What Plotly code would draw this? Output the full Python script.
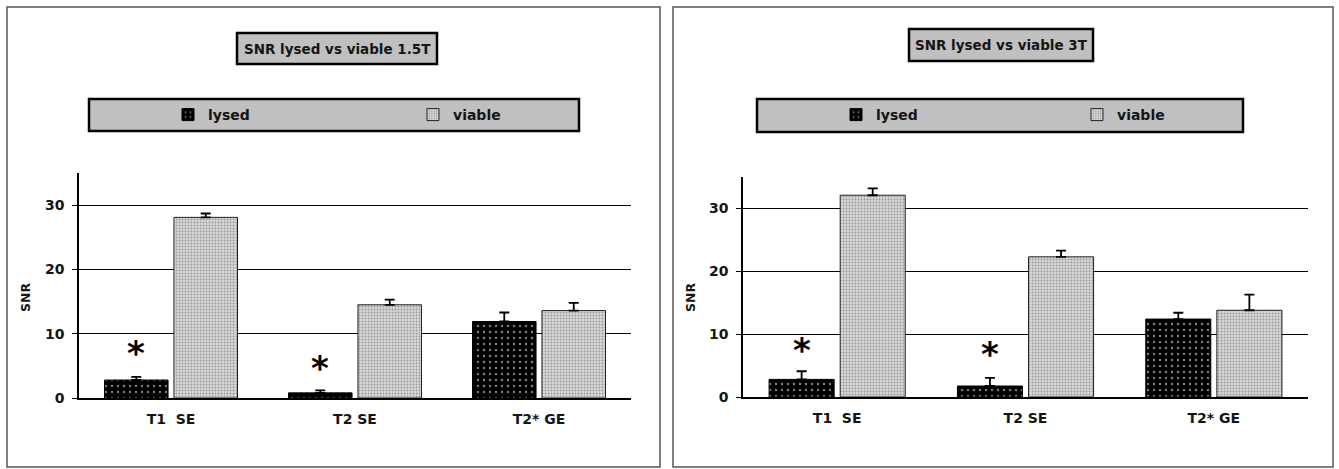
import plotly.graph_objects as go

# ---------------- data ----------------
categories = ["T1\u00a0 SE", "T2 SE", "T2* GE"]

lysed_15 = [2.8, 0.8, 11.9]
lysed_15_err = [0.5, 0.4, 1.4]
viable_15 = [28.1, 14.5, 13.6]
viable_15_err = [0.6, 0.8, 1.2]

lysed_3 = [2.8, 1.75, 12.4]
lysed_3_err = [1.3, 1.3, 1.0]
viable_3 = [32.1, 22.3, 13.8]
viable_3_err = [1.1, 1.0, 2.5]

star_cats = ["T1\u00a0 SE", "T2 SE"]
star_y_15 = [7.8, 5.5]
star_y_3 = [8.3, 7.6]

y_ticks = [0, 10, 20, 30]
titles = ["SNR lysed vs viable 1.5T", "SNR lysed vs viable 3T"]

# ---------------- geometry ----------------
W, H = 1339, 469
FONT = "DejaVu Sans"
TXT = "#151515"


def px(x):
    return x / W


def py(y):
    return 1 - y / H


lysed_style = dict(
    color="black",
    line=dict(color="black", width=1),
    pattern=dict(shape=".", bgcolor="black", fgcolor="white", size=6, solidity=0.12),
)
viable_style = dict(
    color="#bdbdbd",
    line=dict(color="#222", width=1),
    pattern=dict(shape=".", bgcolor="#d8d8d8", fgcolor="#555555", size=3, solidity=0.3),
)


def err(vals):
    return dict(type="data", array=vals, arrayminus=[0] * len(vals), symmetric=False,
                color="black", thickness=1.8, width=5)


fig = go.Figure()

fig.add_trace(go.Bar(x=categories, y=lysed_15, name="lysed", marker=lysed_style,
                     error_y=err(lysed_15_err), xaxis="x", yaxis="y", legend="legend"))
fig.add_trace(go.Bar(x=categories, y=viable_15, name="viable", marker=viable_style,
                     error_y=err(viable_15_err), xaxis="x", yaxis="y", legend="legend"))
fig.add_trace(go.Bar(x=categories, y=lysed_3, name="lysed", marker=lysed_style,
                     error_y=err(lysed_3_err), xaxis="x2", yaxis="y2", legend="legend2"))
fig.add_trace(go.Bar(x=categories, y=viable_3, name="viable", marker=viable_style,
                     error_y=err(viable_3_err), xaxis="x2", yaxis="y2", legend="legend2"))

tickfont = dict(family=FONT, size=14, color=TXT, weight="bold")

xax = dict(type="category", showline=True, linecolor="black", linewidth=1.5,
           ticks="", tickfont=tickfont, showgrid=False, zeroline=False,
           ticklabelstandoff=7, fixedrange=True, automargin=False)
yax = dict(range=[0, 35], tickvals=y_ticks, showline=True, linecolor="black", linewidth=1.5,
           ticks="outside", ticklen=5, tickcolor="black", tickwidth=1.2,
           showgrid=True, gridcolor="black", gridwidth=1.2, zeroline=False,
           tickfont=tickfont, ticklabelstandoff=5, fixedrange=True, automargin=False)

legfont = dict(family=FONT, size=14, color=TXT, weight="bold")
fig.update_layout(
    width=W, height=H, autosize=False,
    margin=dict(l=0, r=0, t=0, b=0, pad=0, autoexpand=False),
    paper_bgcolor="white", plot_bgcolor="white",
    barmode="group", bargap=0.245, bargroupgap=0.085,
    font=dict(family=FONT, color=TXT),
    xaxis=dict(xax, domain=[px(79), px(631)], anchor="y"),
    yaxis=dict(yax, domain=[py(398), py(173)], anchor="x"),
    xaxis2=dict(xax, domain=[px(743), px(1308)], anchor="y2"),
    yaxis2=dict(yax, domain=[py(397), py(177)], anchor="x2"),
    legend=dict(orientation="h", x=px(168), y=py(115), xanchor="left", yanchor="middle",
                bgcolor="rgba(0,0,0,0)", borderwidth=0, font=legfont, itemwidth=30,
                entrywidth=200, entrywidthmode="pixels", itemclick=False, itemdoubleclick=False),
    legend2=dict(orientation="h", x=px(836), y=py(115), xanchor="left", yanchor="middle",
                 bgcolor="rgba(0,0,0,0)", borderwidth=0, font=legfont, itemwidth=30,
                 entrywidth=196, entrywidthmode="pixels", itemclick=False, itemdoubleclick=False),
    showlegend=True,
)

shapes = []
# panel frames
for (x0, x1) in [(7, 660), (673, 1333)]:
    shapes.append(dict(type="rect", xref="paper", yref="paper", x0=px(x0), x1=px(x1),
                       y0=py(467), y1=py(7), line=dict(color="#555", width=1.5),
                       fillcolor="rgba(0,0,0,0)", layer="below"))
# title boxes and legend boxes
boxes = [(237, 33, 437, 64), (909, 29, 1093, 61), (89, 99, 579, 131), (757, 99, 1243, 132)]
for (x0, y0, x1, y1) in boxes:
    shapes.append(dict(type="rect", xref="paper", yref="paper", x0=px(x0), x1=px(x1),
                       y0=py(y1), y1=py(y0), line=dict(color="black", width=2.5),
                       fillcolor="#c0c0c0", layer="below"))
fig.update_layout(shapes=shapes)

ann = []
# titles
for t, (x0, y0, x1, y1) in zip(titles, boxes[:2]):
    ann.append(dict(text=t, xref="paper", yref="paper", x=px((x0 + x1) / 2), y=py((y0 + y1) / 2),
                    xanchor="center", yanchor="middle", showarrow=False,
                    font=dict(family=FONT, size=13.5, color=TXT, weight="bold")))
# y axis titles
for xp, yp in [(25, 298), (690, 298)]:
    ann.append(dict(text="SNR", xref="paper", yref="paper", x=px(xp), y=py(yp),
                    xanchor="center", yanchor="middle", showarrow=False, textangle=-90,
                    font=dict(family=FONT, size=12.5, color=TXT, weight="bold")))
# significance asterisks
for xr, yr, ys, shift in [("x", "y", star_y_15, -35), ("x2", "y2", star_y_3, -35.5)]:
    for c, v in zip(star_cats, ys):
        ann.append(dict(text="*", xref=xr, yref=yr, x=c, y=v, xshift=shift, yshift=-5,
                        xanchor="center", yanchor="middle", showarrow=False,
                        font=dict(family=FONT, size=34, color="black", weight="bold")))
fig.update_layout(annotations=ann)

fig.write_html("out.html", post_script="document.body.style.margin='0';",
               config={"displayModeBar": False})
